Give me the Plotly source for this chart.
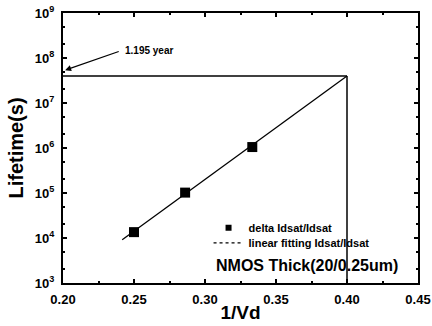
import plotly.graph_objects as go

inv_vd = [0.25, 0.286, 0.3333]
lifetime = [1.35e4, 1.02e5, 1.05e6]
fit_x = [0.2417, 0.40]
fit_y = [9.1e3, 4.0e7]
target_x = 0.40
target_life = 4.0e7  # ~1.195 year in seconds (as drawn)
ytick_vals = [1e3, 1e4, 1e5, 1e6, 1e7, 1e8, 1e9]
ytick_text = ["10<sup>3</sup>", "10<sup>4</sup>", "10<sup>5</sup>", "10<sup>6</sup>",
              "10<sup>7</sup>", "10<sup>8</sup>", "10<sup>9</sup>"]
xtick_vals = [0.20, 0.25, 0.30, 0.35, 0.40, 0.45]

FONT = "Liberation Sans, Arial, sans-serif"

fig = go.Figure()
# data (no legend)
fig.add_trace(go.Scatter(x=inv_vd, y=lifetime, mode="markers",
                         marker=dict(symbol="square", size=10, color="black"),
                         showlegend=False))
fig.add_trace(go.Scatter(x=fit_x, y=fit_y, mode="lines",
                         line=dict(color="black", width=1.3),
                         showlegend=False))
# legend entries
fig.add_trace(go.Scatter(x=[None], y=[None], mode="markers",
                         marker=dict(symbol="square", size=6, color="black"),
                         name="<b>delta Idsat/Idsat</b>", legend="legend"))
fig.add_trace(go.Scatter(x=[None], y=[None], mode="lines",
                         line=dict(color="black", width=1.3, dash="dot"),
                         name="<b>linear fitting Idsat/Idsat</b>", legend="legend2"))

# guide lines
fig.add_shape(type="line", x0=0.20, x1=target_x, y0=target_life, y1=target_life,
              xref="x", yref="y", line=dict(color="black", width=1.5))
fig.add_shape(type="line", x0=target_x, x1=target_x, y0=1e3, y1=target_life,
              xref="x", yref="y", line=dict(color="black", width=1.5))

fig.add_annotation(x=0.2015, y=7.73, xref="x", yref="y", ax=0.2403, ay=8.156,
                   axref="x", ayref="y", showarrow=True, arrowhead=2, arrowsize=1,
                   arrowwidth=1.2, text="", arrowcolor="black")
fig.add_annotation(x=0.2425, y=8.156, xref="x", yref="y", text="<b>1.195 year</b>",
                   showarrow=False, xanchor="left", yanchor="middle",
                   font=dict(family=FONT, size=10, color="black"))
fig.add_annotation(x=0.3065, y=3.4, xref="x", yref="y",
                   text="<b>NMOS Thick(20/0.25um)</b>", showarrow=False,
                   xanchor="left", yanchor="middle",
                   font=dict(family=FONT, size=16, color="black"))

legend_common = dict(xanchor="left", yanchor="middle", bgcolor="rgba(0,0,0,0)",
                     font=dict(family=FONT, size=11, color="black"),
                     borderwidth=0, itemwidth=30)
fig.update_layout(
    width=432, height=326,
    margin=dict(l=63, r=14, t=13, b=43),
    paper_bgcolor="white", plot_bgcolor="white",
    showlegend=True,
    legend=dict(x=0.41, y=0.2045, **legend_common),
    legend2=dict(x=0.41, y=0.1487, **legend_common),
    font=dict(family=FONT, color="black"),
)
fig.update_xaxes(range=[0.20, 0.45], tickvals=xtick_vals,
                 ticktext=[f"<b>{v:.2f}</b>" for v in xtick_vals],
                 showline=True, linecolor="black", linewidth=2, mirror="allticks",
                 ticks="inside", ticklen=4, tickwidth=1.5, tickcolor="black",
                 showgrid=False, zeroline=False, automargin=False,
                 ticklabelstandoff=3, ticklabeloverflow="allow",
                 tickfont=dict(family=FONT, size=13, color="black"),
                 minor=dict(ticks="inside", ticklen=2, tickcolor="black", dtick=0.025),
                 title=dict(text="<b>1/Vd</b>", font=dict(family=FONT, size=19, color="black"),
                            standoff=0))
fig.update_yaxes(type="log", range=[3, 9], tickvals=ytick_vals,
                 ticktext=[f"<b>{t}</b>" for t in ytick_text],
                 showline=True, linecolor="black", linewidth=2, mirror="allticks",
                 ticks="inside", ticklen=4, tickwidth=1.5, tickcolor="black",
                 showgrid=False, zeroline=False, automargin=False,
                 ticklabelstandoff=4, ticklabeloverflow="allow",
                 tickfont=dict(family=FONT, size=13, color="black"),
                 minor=dict(ticks="inside", ticklen=2, tickcolor="black"),
                 title=dict(text="<b>Lifetime(s)</b>", font=dict(family=FONT, size=20, color="black"),
                            standoff=6))

# remove the page's default body margin so the figure fills the window exactly
fig.write_html("out.html", config={"displayModeBar": False},
               post_script="document.body.style.margin='0px';")
